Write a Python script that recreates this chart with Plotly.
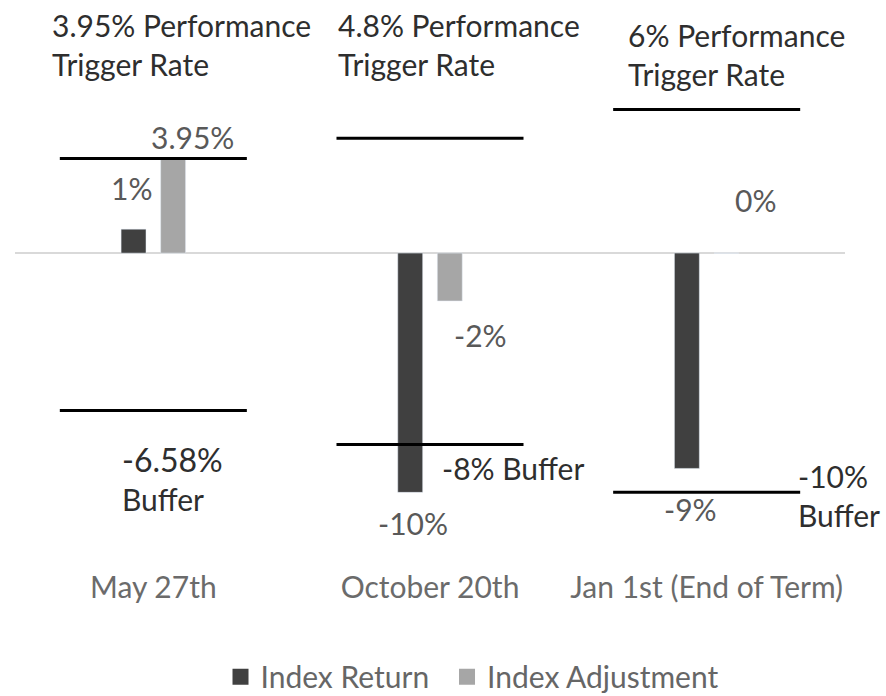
import plotly.graph_objects as go

categories = ["May 27th", "October 20th", "Jan 1st (End of Term)"]
index_return = [1, -10, -9]
index_adjustment = [3.95, -2, 0]
trigger_rates = [3.95, 4.8, 6]
buffers = [-6.58, -8, -10]
trigger_labels = ["3.95% Performance<br>Trigger Rate", "4.8% Performance<br>Trigger Rate",
                  "6% Performance<br>Trigger Rate"]
buffer_labels = ["<span style='font-size:32px'>-6.58%</span><br>Buffer", "-8% Buffer",
                 "-10%<br>Buffer"]
series_names = ["Index Return", "Index Adjustment"]

DARK = "#404040"
LIGHT = "#a6a6a6"
FONT = "Lato"
FS = 30
LABEL_C = "#595959"
CAT_C = "#6b6b6b"
TEXT_C = "#2e2e2e"

fig = go.Figure()
fig.add_trace(go.Bar(x=categories, y=index_return, name=series_names[0],
                     marker_color=DARK, showlegend=False))
fig.add_trace(go.Bar(x=categories, y=index_adjustment, name=series_names[1],
                     marker_color=LIGHT, showlegend=False))
# legend entries (one legend each, to control spacing) with larger square swatches
for name, col, lg in zip(series_names, (DARK, LIGHT), ("legend", "legend2")):
    fig.add_trace(go.Scatter(x=[None], y=[None], mode="markers", name=name, legend=lg,
                             marker=dict(symbol="square", size=16, color=col)))

half = 0.338
for i in range(len(categories)):
    for val in (trigger_rates[i], buffers[i]):
        fig.add_shape(type="line", xref="x", yref="y", x0=i - half, x1=i + half,
                      y0=val, y1=val, line=dict(color="black", width=3), layer="above")

# value labels (offsets in pixels relative to bar end / category centre)
ret_off = [(-22, 41), (-17, -31), (-16, -41)]
adj_off = [(39, 22), (50, -34), (49, 53)]
for i in range(len(categories)):
    for vals, offs in ((index_return, ret_off), (index_adjustment, adj_off)):
        v = vals[i]
        dx, dy = offs[i]
        fig.add_annotation(x=i, y=v, xref="x", yref="y", text=f"{v:g}%", showarrow=False,
                           xshift=dx, yshift=dy, xanchor="center", yanchor="middle",
                           font=dict(family=FONT, size=FS, color=LABEL_C))

# trigger rate titles
trig_off = [(-103, 114), (-94, 94), (-81, 55)]
for i, t in enumerate(trigger_labels):
    dx, dy = trig_off[i]
    fig.add_annotation(x=i, y=trigger_rates[i], xref="x", yref="y", text=t, showarrow=False,
                       xshift=dx, yshift=dy, xanchor="left", yanchor="middle", align="left",
                       font=dict(family=FONT, size=FS, color=TEXT_C))

buf_off = [(-33, -68), (10, -23), (89, -3)]
for i, t in enumerate(buffer_labels):
    dx, dy = buf_off[i]
    fig.add_annotation(x=i, y=buffers[i], xref="x", yref="y", text=t, showarrow=False,
                       xshift=dx, yshift=dy, xanchor="left", yanchor="middle", align="left",
                       font=dict(family=FONT, size=FS, color=TEXT_C))

legend_style = dict(orientation="h", xanchor="left", y=-0.235, yanchor="middle",
                    font=dict(family=FONT, size=FS, color="#666666"), itemwidth=30,
                    bgcolor="rgba(0,0,0,0)")
fig.update_layout(
    width=886, height=696,
    margin=dict(l=15, r=41, t=100, b=129, autoexpand=False),
    paper_bgcolor="white", plot_bgcolor="white",
    barmode="group", bargap=0.714, bargroupgap=0.37,
    showlegend=True,
    legend=dict(x=0.2476, **legend_style),
    legend2=dict(x=0.5205, **legend_style),
    font=dict(family=FONT, size=FS, color=LABEL_C),
)
fig.update_xaxes(range=[-0.5, 2.5], showgrid=False, showline=False, ticks="",
                 tickfont=dict(family=FONT, size=FS, color=CAT_C))
fig.update_yaxes(range=[-13.12, 6.40], showgrid=False, showticklabels=False,
                 zeroline=True, zerolinecolor="#d9d9d9", zerolinewidth=1.5)

fig.write_html("out.html", config={"displayModeBar": False},
               post_script="document.body.style.margin='0';document.body.style.overflow='hidden';")
